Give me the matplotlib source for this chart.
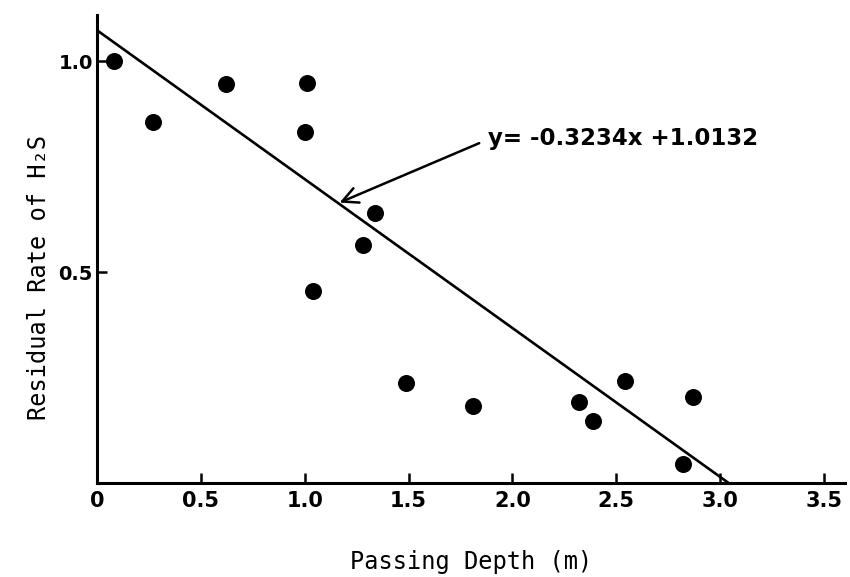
import matplotlib
matplotlib.use("Agg")
import matplotlib.pyplot as plt

# Measured points: passing depth (m) vs residual rate of H2S
depth = [0.08, 0.27, 0.62, 1.01, 1.00, 1.34, 1.28, 1.04, 1.49, 1.81, 2.32, 2.39, 2.54, 2.87, 2.82]
residual = [1.00, 0.856, 0.947, 0.949, 0.832, 0.641, 0.565, 0.456, 0.238, 0.183, 0.192, 0.146, 0.243, 0.203, 0.044]

# Fitted line as drawn (end points)
fit_x = [0.0, 3.04]
fit_y = [1.074, 0.0]
equation = "y= -0.3234x +1.0132"

x_ticks = [0, 0.5, 1.0, 1.5, 2.0, 2.5, 3.0, 3.5]
x_tick_labels = ["0", "0.5", "1.0", "1.5", "2.0", "2.5", "3.0", "3.5"]
y_ticks = [0.5, 1.0]
y_tick_labels = ["0.5", "1.0"]

fig = plt.figure(figsize=(8.5, 5.77), dpi=100)
ax = fig.add_axes([0.114, 0.163, 0.88, 0.811])

ax.scatter(depth, residual, s=150, color="black", zorder=3, linewidths=0)
ax.plot(fit_x, fit_y, color="black", lw=1.9, solid_capstyle="butt")

# Equation label with an arrow pointing at the fitted line
ax.text(1.88, 0.818, equation, fontsize=16.5, fontweight="bold",
        family="DejaVu Sans", va="center", ha="left")
ax.annotate("", xy=(1.168, 0.665), xytext=(1.84, 0.806),
            arrowprops=dict(arrowstyle="->", color="black", lw=1.8,
                            mutation_scale=28, shrinkA=0, shrinkB=0))

ax.set_xlim(0, 3.6)
ax.set_ylim(0, 1.11)
for side in ("top", "right"):
    ax.spines[side].set_visible(False)
for side in ("left", "bottom"):
    ax.spines[side].set_linewidth(2.2)

ax.set_xticks(x_ticks)
ax.set_xticklabels(x_tick_labels, fontsize=15, fontweight="bold")
ax.set_yticks(y_ticks)
ax.set_yticklabels(y_tick_labels, fontsize=14, fontweight="bold")
ax.tick_params(axis="both", direction="in", length=7, width=1.8)
ax.tick_params(axis="x", pad=6)
ax.tick_params(axis="y", pad=3)

ax.set_xlabel("Passing Depth (m)", fontsize=17, family="DejaVu Sans Mono", va="center")
ax.set_ylabel("Residual Rate of H₂S", fontsize=17, family="DejaVu Sans Mono", va="center")
ax.xaxis.set_label_coords(0.5, -0.169)
ax.yaxis.set_label_coords(-0.078, 0.44)

fig.savefig("out.png", dpi=100)
